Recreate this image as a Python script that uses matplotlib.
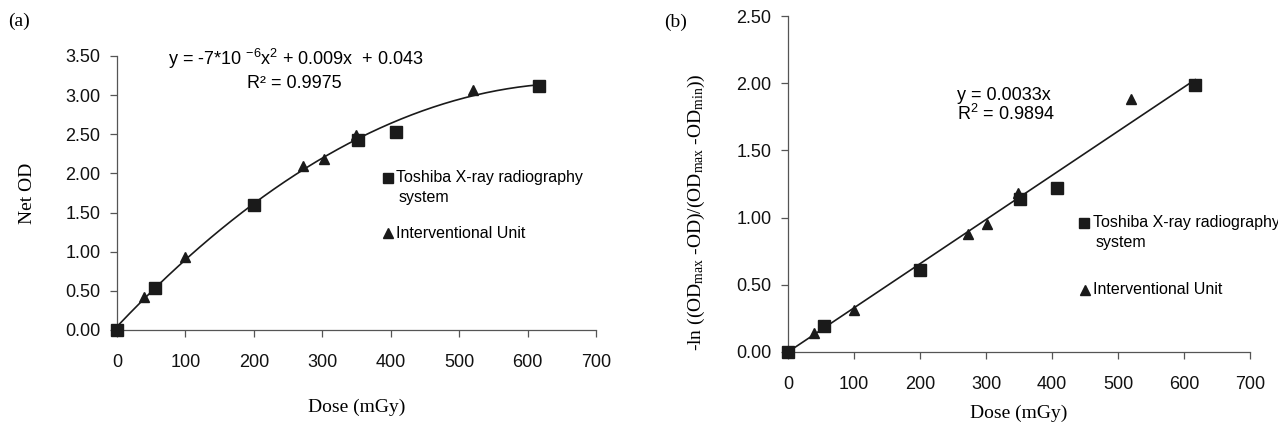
import numpy as np
import matplotlib
matplotlib.use("Agg")
import matplotlib.pyplot as plt

# ----- data -----
# (a) Net OD vs dose
toshiba_dose_a = [0, 55, 200, 352, 408, 617]
toshiba_od_a = [0.00, 0.54, 1.60, 2.43, 2.53, 3.12]
interv_dose_a = [40, 100, 272, 302, 349, 520]
interv_od_a = [0.42, 0.93, 2.09, 2.19, 2.49, 3.07]

# (b) linearised response vs dose
toshiba_dose_b = [0, 54, 200, 352, 407, 617]
toshiba_val_b = [0.00, 0.19, 0.61, 1.14, 1.22, 1.99]
interv_dose_b = [40, 100, 272, 302, 348, 520]
interv_val_b = [0.14, 0.31, 0.88, 0.95, 1.18, 1.88]

xticks = [0, 100, 200, 300, 400, 500, 600, 700]
yticks_a = [0.0, 0.5, 1.0, 1.5, 2.0, 2.5, 3.0, 3.5]
yticks_b = [0.0, 0.5, 1.0, 1.5, 2.0, 2.5]

eq_a = r"y = -7*10 $\mathregular{^{-6}}$x$\mathregular{^{2}}$ + 0.009x  + 0.043"
r2_a = "R\u00b2 = 0.9975"
eq_b = "y = 0.0033x"
r2_b = r"R$\mathregular{^{2}}$ = 0.9894"
leg_toshiba = "Toshiba X-ray radiography"
leg_toshiba2 = "system"
leg_interv = "Interventional Unit"

SANS = ["Liberation Sans", "DejaVu Sans"]
SERIF = ["Liberation Serif", "DejaVu Serif"]
INK = "#1a1a1a"
SPINE = "#555555"

plt.rcParams["font.family"] = SANS

fig = plt.figure(figsize=(12.78, 4.26), dpi=100)
ax_a = fig.add_axes([117 / 1278, 1 - 330 / 426, (596 - 117) / 1278, (330 - 56) / 426])
ax_b = fig.add_axes([788 / 1278, 1 - 352 / 426, (1250 - 788) / 1278, (352 - 16) / 426])


def style(ax, yticks):
    for s in ["top", "right"]:
        ax.spines[s].set_visible(False)
    for s in ["left", "bottom"]:
        ax.spines[s].set_color(SPINE)
        ax.spines[s].set_linewidth(0.9)
    ax.set_xlim(0, 700)
    ax.set_ylim(0, yticks[-1])
    ax.set_xticks(xticks)
    ax.set_yticks(yticks)
    ax.set_yticklabels([f"{v:.2f}" for v in yticks])
    ax.tick_params(axis="both", direction="out", length=5, width=0.9,
                   color=SPINE, labelsize=13, labelcolor="#111111")
    ax.tick_params(axis="y", pad=7)
    ax.tick_params(axis="x", pad=12)


# ----- panel (a) -----
style(ax_a, yticks_a)
all_x = np.array(toshiba_dose_a + interv_dose_a, dtype=float)
all_y = np.array(toshiba_od_a + interv_od_a, dtype=float)
coef = np.polyfit(all_x, all_y, 2)
xs = np.linspace(0, max(all_x), 200)
ax_a.plot(xs, np.polyval(coef, xs), color=INK, lw=1.2, zorder=2)
ax_a.plot(toshiba_dose_a, toshiba_od_a, "s", color=INK, ms=8, clip_on=False, zorder=3)
ax_a.plot(interv_dose_a, interv_od_a, "^", color=INK, ms=7.5, clip_on=False, zorder=3)

ax_a.set_xlabel("Dose (mGy)", family=SERIF, fontsize=14)
ax_a.xaxis.set_label_coords(0.5, -0.252)
ax_a.set_ylabel("Net OD", family=SERIF, fontsize=14)
ax_a.yaxis.set_label_coords(-0.169, 0.5)

ax_a.text(0.374, 0.989, eq_a, transform=ax_a.transAxes, ha="center", va="center", fontsize=13)
ax_a.text(0.37, 0.901, r2_a, transform=ax_a.transAxes, ha="center", va="center", fontsize=13)

ax_a.plot([0.566], [0.555], "s", color=INK, ms=6.5, transform=ax_a.transAxes, clip_on=False)
ax_a.text(0.582, 0.555, leg_toshiba, transform=ax_a.transAxes, va="center", fontsize=11.5)
ax_a.text(0.587, 0.485, leg_toshiba2, transform=ax_a.transAxes, va="center", fontsize=11.5)
ax_a.plot([0.566], [0.354], "^", color=INK, ms=6.5, transform=ax_a.transAxes, clip_on=False)
ax_a.text(0.582, 0.354, leg_interv, transform=ax_a.transAxes, va="center", fontsize=11.5)

fig.text(19 / 1278, 1 - 21 / 426, "(a)", family=SERIF, fontsize=14, ha="center", va="center")

# ----- panel (b) -----
style(ax_b, yticks_b)
bx = np.array(toshiba_dose_b + interv_dose_b, dtype=float)
by = np.array(toshiba_val_b + interv_val_b, dtype=float)
slope = np.sum(bx * by) / np.sum(bx * bx)
xl = np.array([0, max(bx)])
ax_b.plot(xl, slope * xl, color=INK, lw=1.2, zorder=2)
ax_b.plot(toshiba_dose_b, toshiba_val_b, "s", color=INK, ms=8.5, clip_on=False, zorder=3)
ax_b.plot(interv_dose_b, interv_val_b, "^", color=INK, ms=7.5, clip_on=False, zorder=3)

ax_b.set_xlabel("Dose (mGy)", family=SERIF, fontsize=14)
ax_b.xaxis.set_label_coords(0.5, -0.158)
ax_b.set_ylabel(r"-ln ((OD$\mathregular{_{max}}$ -OD)/(OD$\mathregular{_{max}}$ -OD$\mathregular{_{min}}$))",
                family=SERIF, fontsize=14)
ax_b.yaxis.set_label_coords(-0.175, 0.417)

ax_b.text(0.366, 0.762, eq_b, transform=ax_b.transAxes, va="center", fontsize=13)
ax_b.text(0.366, 0.708, r2_b, transform=ax_b.transAxes, va="center", fontsize=13)

ax_b.plot([0.641], [0.384], "s", color=INK, ms=6.5, transform=ax_b.transAxes, clip_on=False)
ax_b.text(0.66, 0.384, leg_toshiba, transform=ax_b.transAxes, va="center", fontsize=11.5)
ax_b.text(0.665, 0.327, leg_toshiba2, transform=ax_b.transAxes, va="center", fontsize=11.5)
ax_b.plot([0.643], [0.185], "^", color=INK, ms=6.5, transform=ax_b.transAxes, clip_on=False)
ax_b.text(0.66, 0.185, leg_interv, transform=ax_b.transAxes, va="center", fontsize=11.5)

fig.text(676 / 1278, 1 - 22 / 426, "(b)", family=SERIF, fontsize=14, ha="center", va="center")

fig.savefig("out.png", dpi=100)
